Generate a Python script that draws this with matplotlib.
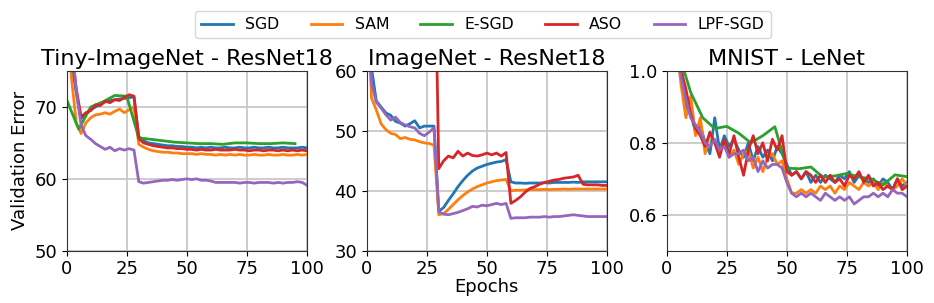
import matplotlib
matplotlib.use("Agg")
import matplotlib.pyplot as plt
import numpy as np

# --- data: validation error per epoch ---
methods = ["SGD", "SAM", "E-SGD", "ASO", "LPF-SGD"]
colors = ["tab:blue", "tab:orange", "tab:green", "tab:red", "tab:purple"]

ep2 = np.arange(0, 101, 2)    # most curves, every 2 epochs
ep5 = np.arange(0, 96, 5)     # E-SGD on Tiny-ImageNet
ep5m = np.arange(0, 101, 5)   # E-SGD on MNIST
ep_aso = np.arange(28, 101, 2)  # ASO on ImageNet (off the chart before)

# Tiny-ImageNet - ResNet18
tiny_sgd = [85, 76, 72, 68.4, 69.0, 69.6, 70.0, 70.4, 70.7, 70.9, 71.0, 71.1, 71.2, 71.3, 71.4,
            65.9, 65.3, 65.0, 64.9, 64.8, 64.7, 64.6, 64.6, 64.5, 64.5, 64.4, 64.4, 64.3, 64.4, 64.3,
            64.4, 64.3, 64.3, 64.4, 64.3, 64.3, 64.4, 64.3, 64.3, 64.4, 64.3, 64.3, 64.4, 64.3, 64.3,
            64.4, 64.3, 64.3, 64.3, 64.4, 64.3]
tiny_sam = [82, 74, 67.8, 66.3, 67.8, 68.5, 68.9, 69.0, 69.2, 69.0, 69.4, 69.7, 69.2, 69.6, 70.0,
            64.8, 64.4, 64.1, 63.9, 63.8, 63.7, 63.7, 63.6, 63.6, 63.5, 63.5, 63.5, 63.4, 63.5, 63.4,
            63.4, 63.3, 63.4, 63.3, 63.4, 63.3, 63.4, 63.3, 63.3, 63.4, 63.3, 63.3, 63.4, 63.3, 63.3,
            63.4, 63.3, 63.3, 63.4, 63.3, 63.4]
tiny_esgd = [71.0, 66.9, 70.0, 70.7, 71.6, 71.5, 65.7, 65.5, 65.3, 65.1, 65.0, 64.9, 64.9, 64.8,
             65.0, 65.0, 64.9, 64.9, 65.0, 64.9]
tiny_aso = [88, 78, 72.5, 68.6, 69.2, 69.5, 70.3, 70.2, 70.8, 70.6, 71.0, 70.9, 71.3, 71.7, 71.5,
            65.6, 65.0, 64.8, 64.6, 64.5, 64.4, 64.3, 64.3, 64.2, 64.2, 64.1, 64.1, 64.0, 64.1, 64.0,
            64.0, 64.1, 64.0, 64.0, 64.0, 64.1, 64.0, 64.0, 63.9, 64.0, 64.0, 63.9, 64.0, 64.0, 63.9,
            64.0, 63.9, 64.0, 63.9, 64.0, 63.9]
tiny_lpf = [95, 80, 72, 67.5, 66.0, 65.5, 64.9, 64.5, 64.1, 64.4, 63.9, 64.2, 64.0, 64.2, 64.0,
            59.6, 59.4, 59.5, 59.6, 59.7, 59.8, 59.8, 59.9, 59.8, 59.9, 60.0, 59.9, 60.0, 59.8, 59.8,
            59.7, 59.5, 59.5, 59.5, 59.5, 59.5, 59.4, 59.5, 59.5, 59.4, 59.5, 59.5, 59.5, 59.4, 59.5,
            59.4, 59.5, 59.5, 59.6, 59.5, 59.1]

# ImageNet - ResNet18
inet_sgd = [75, 60.5, 55.0, 54.0, 53.0, 52.6, 51.6, 51.3, 50.8, 51.2, 51.7, 50.5, 50.8, 50.8, 50.8,
            36.6, 37.2, 38.4, 39.5, 40.7, 41.7, 42.6, 43.3, 43.8, 44.1, 44.4, 44.6, 44.8, 44.9, 45.2,
            41.5, 41.3, 41.3, 41.25, 41.3, 41.3, 41.3, 41.35, 41.3, 41.4, 41.4, 41.4, 41.4, 41.45, 41.4,
            41.5, 41.5, 41.5, 41.5, 41.5, 41.5]
inet_sam = [75, 55.5, 53.5, 51.2, 50.2, 49.6, 49.4, 48.7, 48.9, 48.6, 48.5, 48.2, 48.0, 47.9, 47.6,
            36.0, 36.2, 36.9, 37.7, 38.5, 39.2, 39.8, 40.3, 40.7, 41.0, 41.3, 41.5, 41.7, 41.8, 41.9,
            40.0, 40.1, 40.1, 40.15, 40.2, 40.2, 40.2, 40.25, 40.2, 40.25, 40.25, 40.3, 40.25, 40.3, 40.3,
            40.3, 40.3, 40.3, 40.3, 40.3, 40.3]
inet_aso = [90, 43.7, 45.0, 45.8, 45.5, 46.6, 45.8, 46.3, 45.9, 45.8, 46.0, 46.3, 46.0, 46.3, 45.8,
            46.4, 37.9, 38.4, 39.0, 39.8, 40.4, 40.7, 41.1, 41.4, 41.6, 41.8, 41.9, 42.1, 42.2, 42.3,
            42.6, 41.1, 41.0, 41.0, 41.0, 40.9, 40.9]
inet_lpf = [75, 58, 54.8, 53.8, 52.7, 51.8, 52.3, 51.4, 51.0, 50.7, 50.5, 49.6, 49.2, 49.8, 50.5,
            36.5, 36.1, 36.0, 36.2, 36.4, 36.7, 37.0, 37.4, 37.3, 37.6, 37.5, 37.7, 37.9, 37.7, 37.9,
            35.4, 35.5, 35.5, 35.5, 35.6, 35.6, 35.6, 35.7, 35.6, 35.7, 35.7, 35.8, 35.9, 36.0, 35.9,
            35.8, 35.7, 35.7, 35.7, 35.7, 35.7]

# MNIST - LeNet
mnist_sgd = [1.6, 1.3, 1.12, 1.02, 0.90, 0.88, 0.83, 0.85, 0.80, 0.77, 0.87, 0.78, 0.82, 0.79, 0.81,
             0.78, 0.76, 0.80, 0.75, 0.79, 0.76, 0.78, 0.75, 0.79, 0.77, 0.74, 0.71, 0.72, 0.70, 0.72,
             0.69, 0.71, 0.69, 0.71, 0.70, 0.69, 0.71, 0.70, 0.72, 0.69, 0.71, 0.70, 0.69, 0.70, 0.68,
             0.70, 0.69, 0.67, 0.70, 0.68, 0.69]
mnist_sam = [1.5, 1.25, 1.08, 0.96, 0.87, 0.93, 0.82, 0.87, 0.77, 0.83, 0.80, 0.78, 0.80, 0.76, 0.78,
             0.74, 0.77, 0.78, 0.73, 0.76, 0.72, 0.76, 0.77, 0.74, 0.75, 0.70, 0.66, 0.66, 0.67, 0.66,
             0.67, 0.66, 0.68, 0.67, 0.68, 0.66, 0.68, 0.67, 0.69, 0.68, 0.67, 0.69, 0.68, 0.69, 0.67,
             0.69, 0.68, 0.67, 0.68, 0.70, 0.68]
mnist_esgd = [1.4, 1.05, 0.94, 0.87, 0.84, 0.846, 0.827, 0.80, 0.82, 0.845, 0.73, 0.728, 0.733,
              0.705, 0.708, 0.715, 0.705, 0.70, 0.683, 0.711, 0.706]
mnist_aso = [1.6, 1.35, 1.1, 1.0, 0.95, 0.88, 0.84, 0.82, 0.79, 0.83, 0.80, 0.76, 0.81, 0.77, 0.82,
             0.76, 0.71, 0.78, 0.82, 0.77, 0.80, 0.75, 0.81, 0.78, 0.82, 0.72, 0.71, 0.72, 0.70, 0.72,
             0.71, 0.69, 0.71, 0.69, 0.71, 0.69, 0.70, 0.68, 0.71, 0.70, 0.72, 0.69, 0.71, 0.68, 0.69,
             0.67, 0.68, 0.67, 0.70, 0.67, 0.68]
mnist_lpf = [1.5, 1.25, 1.07, 0.98, 0.92, 0.87, 0.85, 0.83, 0.80, 0.79, 0.81, 0.78, 0.79, 0.76, 0.77,
             0.77, 0.78, 0.75, 0.76, 0.72, 0.75, 0.73, 0.74, 0.74, 0.73, 0.69, 0.66, 0.65, 0.66, 0.65,
             0.66, 0.65, 0.64, 0.66, 0.65, 0.64, 0.65, 0.64, 0.65, 0.63, 0.64, 0.65, 0.65, 0.66, 0.65,
             0.66, 0.65, 0.67, 0.66, 0.66, 0.65]

panels = [
    ("Tiny-ImageNet - ResNet18", (50, 75), [50, 60, 70],
     [(ep2, tiny_sgd), (ep2, tiny_sam), (ep5, tiny_esgd), (ep2, tiny_aso), (ep2, tiny_lpf)]),
    ("ImageNet - ResNet18", (30, 60), [30, 40, 50, 60],
     [(ep2, inet_sgd), (ep2, inet_sam), None, (ep_aso, inet_aso), (ep2, inet_lpf)]),
    ("MNIST - LeNet", (0.5, 1.0), [0.6, 0.8, 1.0],
     [(ep2, mnist_sgd), (ep2, mnist_sam), (ep5m, mnist_esgd), (ep2, mnist_aso), (ep2, mnist_lpf)]),
]

fig = plt.figure(figsize=(9.34, 3.03), dpi=100)
lefts = [0.0714, 0.3926, 0.7138]
axes = [fig.add_axes([l, 0.1726, 0.2573, 0.593]) for l in lefts]

for ax, (title, ylim, yticks, series) in zip(axes, panels):
    for name, col, s in zip(methods, colors, series):
        if s is None:
            ax.plot([], [], color=col, lw=2, label=name)
            continue
        ax.plot(s[0], s[1], color=col, lw=2, label=name)
    ax.set_xlim(0, 100)
    ax.set_ylim(*ylim)
    ax.set_xticks([0, 25, 50, 75, 100])
    ax.set_yticks(yticks)
    ax.grid(True, color="#c8c8c8", lw=1.3)
    ax.set_axisbelow(True)
    ax.tick_params(labelsize=13)
    for sp in ax.spines.values():
        sp.set_color("#333333")
    ax.set_title(title, fontsize=16, pad=4)

axes[0].set_ylabel("Validation Error", fontsize=13)
axes[1].set_xlabel("Epochs", fontsize=13, labelpad=0)

handles, labels = axes[0].get_legend_handles_labels()
fig.legend(handles, labels, loc="upper center", bbox_to_anchor=(0.517, 0.99),
           ncol=5, fontsize=11.3, frameon=True)

fig.savefig("out.png", dpi=100)
